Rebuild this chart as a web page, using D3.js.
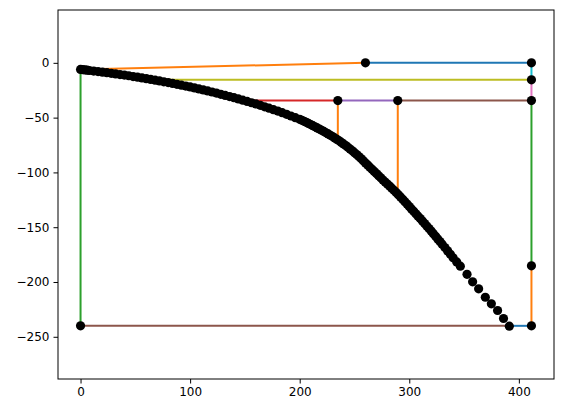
<!DOCTYPE html>
<html lang="en">
<head>
  <meta charset="UTF-8">
  <script src="https://d3js.org/d3.v7.min.js"></script>
  <title>Trajectory with segments</title>
  <style>
    body { margin: 0; background: #fff; }
    svg text { font-family: "DejaVu Sans", sans-serif; font-size: 12px; fill: #000; }
  </style>
</head>
<body>
  <div id="chart"></div>
  <script>
    // black curve, points
    const curveX = [0, 2, 4, 6, 8, 12, 16, 20, 24, 28, 32, 36, 40, 44, 48, 52, 56, 60, 64, 68, 72, 76,
      80, 84, 88, 92, 96, 100, 104, 108, 112, 116, 120, 124, 128, 132, 136, 140, 144, 148, 152, 156,
      160, 164, 168, 172, 176, 180, 184, 188, 192, 196,
      200, 202, 204, 206, 208, 210, 212, 214, 216, 218, 220, 222, 224, 226, 228, 230, 232, 234, 236, 238,
      240, 242, 244, 246, 248, 250, 252, 254, 256, 258, 260, 262, 264, 266, 268, 270, 272, 274, 276, 278,
      280, 282, 284, 286, 288, 290, 292, 294, 296, 298, 300, 302, 304, 306, 308, 310, 312, 314, 316, 318,
      320, 322, 324, 326, 328, 330, 332.5, 335, 337.5, 340, 343.3,
      346.6, 352.7, 357.8, 363.3, 369.4, 374.9, 380.6, 386, 391.3];
    const curveY = [-6, -6.2, -6.5, -6.7, -7, -7.5, -8, -8.5, -9, -9.6, -10.1, -10.7, -11.2, -11.8, -12.5, -13.1, -13.8, -14.4, -15.1, -15.8, -16.5, -17.3,
      -18, -18.8, -19.6, -20.4, -21.2, -22, -22.9, -23.8, -24.7, -25.6, -26.6, -27.6, -28.7, -29.7, -30.8, -31.8, -32.9, -34.1, -35.2, -36.4,
      -37.5, -38.8, -40.1, -41.4, -42.7, -44, -45.5, -47, -48.5, -50,
      -51.5, -52.4, -53.4, -54.3, -55.3, -56.3, -57.3, -58.3, -59.4, -60.4, -61.5, -62.6, -63.8, -64.9, -66.1, -67.3, -68.6, -69.9, -71.2, -72.6,
      -74, -75.5, -77.1, -78.7, -80.3, -82, -83.7, -85.5, -87.4, -89.3, -91.3, -93.2, -95.2, -97.1, -99.1, -101, -103, -104.9, -106.9, -108.8,
      -110.6, -112.5, -114.4, -116.3, -118.3, -120.3, -122.4, -124.5, -126.7, -128.9, -131.1, -133.3, -135.5, -137.7, -139.9, -142.1, -144.4, -146.6, -148.9, -151.2,
      -153.5, -155.9, -158.3, -160.7, -163.1, -165.5, -168.5, -171.6, -174.7, -177.9, -181.7,
      -185.6, -193, -199.8, -206.2, -213.9, -219.9, -226, -233.3, -240.3];

    // coloured segments: [x1, y1, x2, y2, colour]
    const segments = [
      [0, -6, 260, 0, '#ff7f0e'],
      [260, 0, 411.5, 0, '#1f77b4'],
      [411.5, 0, 411.5, -15.5, '#17becf'],
      [66, -15.5, 411.5, -15.5, '#bcbd22'],
      [411.5, -15.5, 411.5, -34.4, '#e377c2'],
      [150, -34.4, 234.8, -34.4, '#d62728'],
      [234.8, -34.4, 289.5, -34.4, '#9467bd'],
      [289.5, -34.4, 411.5, -34.4, '#8c564b'],
      [234.8, -34.4, 234.8, -70, '#ff7f0e'],
      [289.5, -34.4, 289.5, -120, '#ff7f0e'],
      [411.5, -34.4, 411.5, -185.2, '#2ca02c'],
      [411.5, -185.2, 411.5, -240, '#ff7f0e'],
      [391.3, -240, 411.5, -240, '#1f77b4'],
      [0, -240, 391.3, -240, '#8c564b'],
      [0, -6, 0, -240, '#2ca02c']
    ];

    // extra black points at the corners
    const nodeX = [260, 411.5, 411.5, 411.5, 234.8, 289.5, 411.5, 411.5, 0];
    const nodeY = [0, 0, -15.5, -34.4, -34.4, -34.4, -185.2, -240, -240];

    const xTicks = [0, 100, 200, 300, 400];
    const yTicks = [0, -50, -100, -150, -200, -250];

    const W = 563, H = 413;
    const mLeft = 58, mRight = 554, mTop = 10, mBottom = 379;

    // equal aspect, like matplotlib axis('equal')
    const allX = curveX.concat(nodeX), allY = curveY.concat(nodeY);
    const xMin = d3.min(allX), xMax = d3.max(allX);
    const yMin = d3.min(allY), yMax = d3.max(allY);
    const pad = (xMax - xMin) * 0.05;
    const k = (mRight - mLeft) / (xMax - xMin + 2 * pad);
    const yMid = (yMin + yMax) / 2, ySpan = (mBottom - mTop) / k;

    const x = d3.scaleLinear().domain([xMin - pad, xMax + pad]).range([mLeft, mRight]);
    const y = d3.scaleLinear().domain([yMid - ySpan / 2, yMid + ySpan / 2]).range([mBottom, mTop]);

    const svg = d3.select('#chart').append('svg')
      .attr('width', W)
      .attr('height', H);

    svg.append('defs').append('clipPath').attr('id', 'clip')
      .append('rect').attr('x', mLeft).attr('y', mTop)
      .attr('width', mRight - mLeft).attr('height', mBottom - mTop);

    const plot = svg.append('g').attr('clip-path', 'url(#clip)');

    plot.selectAll('line.seg')
      .data(segments)
      .enter()
      .append('line')
      .attr('class', 'seg')
      .attr('x1', d => x(d[0])).attr('y1', d => y(d[1]))
      .attr('x2', d => x(d[2])).attr('y2', d => y(d[3]))
      .attr('stroke', d => d[4])
      .attr('stroke-width', 2);

    const pts = curveX.map((v, i) => [v, curveY[i]])
      .concat(nodeX.map((v, i) => [v, nodeY[i]]));

    plot.selectAll('circle')
      .data(pts)
      .enter()
      .append('circle')
      .attr('cx', d => x(d[0]))
      .attr('cy', d => y(d[1]))
      .attr('r', 4.6)
      .attr('fill', '#000');

    const fmt = d => d < 0 ? '\u2212' + Math.abs(d) : String(d);

    svg.append('g')
      .attr('transform', `translate(0,${mBottom})`)
      .call(d3.axisBottom(x).tickValues(xTicks).tickFormat(fmt).tickSizeOuter(0).tickSize(4.5).tickPadding(4))
      .call(g => g.select('.domain').remove())
      .call(g => g.selectAll('text').attr('font-size', 12).attr('font-family', 'DejaVu Sans'));

    svg.append('g')
      .attr('transform', `translate(${mLeft},0)`)
      .call(d3.axisLeft(y).tickValues(yTicks).tickFormat(fmt).tickSizeOuter(0).tickSize(4.5).tickPadding(4))
      .call(g => g.select('.domain').remove())
      .call(g => g.selectAll('text').attr('font-size', 12).attr('font-family', 'DejaVu Sans'));

    svg.append('rect')
      .attr('x', mLeft).attr('y', mTop)
      .attr('width', mRight - mLeft).attr('height', mBottom - mTop)
      .attr('fill', 'none')
      .attr('stroke', '#000')
      .attr('stroke-width', 1);
  </script>
</body>
</html>
